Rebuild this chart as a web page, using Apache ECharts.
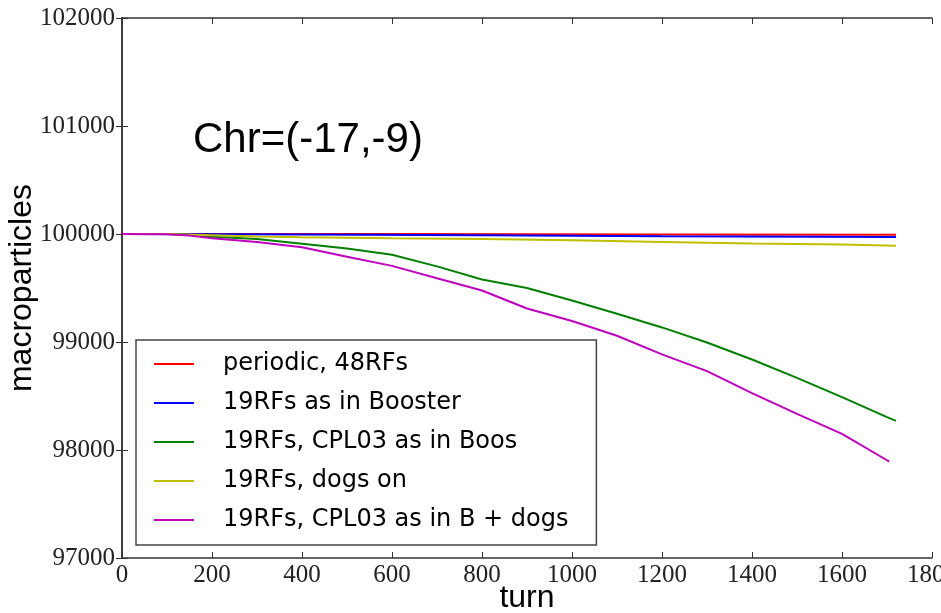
<!DOCTYPE html>
<html>
<head>
<meta charset="utf-8">
<script src="https://cdn.jsdelivr.net/npm/echarts@6/dist/echarts.min.js"></script>
<style>
  html, body { margin: 0; padding: 0; background: #fff; }
  #chart { width: 941px; height: 613px; }
</style>
</head>
<body>
<div id="chart"></div>
<script>
// data
var seriesNames = ['periodic, 48RFs', '19RFs as in Booster', '19RFs, CPL03 as in Boos', '19RFs, dogs on', '19RFs, CPL03 as in B + dogs'];
var seriesColors = ['#ff0000', '#0000ff', '#008000', '#bfbf00', '#bf00bf'];

var periodicTurns = [0, 600, 1200, 1720];
var periodicVals = [100000, 100000, 99996, 99992];

var boosterTurns = [0, 400, 800, 1200, 1720];
var boosterVals = [100000, 99995, 99988, 99980, 99972];

var cplTurns = [0, 100, 150, 200, 300, 400, 500, 600, 700, 800, 900, 1000, 1100, 1200, 1300, 1400, 1500, 1600, 1700, 1720];
var cplVals = [100000, 99999, 99992, 99975, 99953, 99910, 99865, 99808, 99700, 99578, 99500, 99385, 99262, 99135, 98995, 98838, 98668, 98490, 98305, 98270];

var dogsTurns = [0, 100, 200, 300, 400, 600, 800, 1000, 1200, 1400, 1600, 1720];
var dogsVals = [100000, 99999, 99988, 99978, 99970, 99960, 99953, 99942, 99926, 99912, 99902, 99892];

var cplDogsTurns = [0, 100, 150, 200, 300, 400, 500, 600, 700, 800, 900, 1000, 1100, 1200, 1300, 1400, 1500, 1600, 1700, 1705];
var cplDogsVals = [100000, 99998, 99985, 99960, 99925, 99878, 99790, 99705, 99590, 99477, 99310, 99195, 99058, 98885, 98730, 98527, 98335, 98150, 97905, 97892];

var xMin = 0, xMax = 1800, xStep = 200;
var yMin = 97000, yMax = 102000, yStep = 1000;

function pairs(xs, ys) {
    var out = [];
    for (var i = 0; i < xs.length; i++) {
        out.push([xs[i], ys[i]]);
    }
    return out;
}

var allTurns = [periodicTurns, boosterTurns, cplTurns, dogsTurns, cplDogsTurns];
var allVals = [periodicVals, boosterVals, cplVals, dogsVals, cplDogsVals];

var series = [];
for (var i = 0; i < seriesNames.length; i++) {
    series.push({
        name: seriesNames[i],
        type: 'line',
        symbol: 'none',
        lineStyle: { color: seriesColors[i], width: 2 },
        itemStyle: { color: seriesColors[i] },
        data: pairs(allTurns[i], allVals[i])
    });
}

var tickStyle = { show: true, inside: true, length: 6, lineStyle: { color: '#333', width: 1 } };
var frameLine = { show: true, lineStyle: { color: '#333', width: 1.5 } };
var plainNum = function (v) { return String(v); };
var tickFont = { fontFamily: 'Liberation Serif', fontSize: 25, color: '#222', formatter: plainNum };

var myChart = echarts.init(document.getElementById('chart'));

var option = {
    backgroundColor: '#fff',
    animation: false,
    title: {
        text: 'Chr=(-17,-9)',
        left: 188,
        top: 114,
        textStyle: { fontFamily: 'Liberation Sans', fontSize: 42, fontWeight: 'normal', color: '#000' }
    },
    legend: {
        orient: 'vertical',
        left: 136,
        top: 340,
        data: seriesNames,
        icon: 'rect',
        itemWidth: 40,
        itemHeight: 2,
        itemGap: 15,
        padding: [12, 28, 13, 18],
        borderColor: '#444',
        borderWidth: 1.5,
        backgroundColor: '#fff',
        textStyle: { fontFamily: 'DejaVu Sans', fontSize: 24, color: '#000', padding: [0, 0, 0, 24] }
    },
    grid: {
        left: 122,
        right: 9,
        top: 18,
        bottom: 55,
        containLabel: false,
        outerBoundsMode: 'none',
        show: false
    },
    xAxis: [
        {
            type: 'value',
            min: xMin,
            max: xMax,
            interval: xStep,
            name: 'turn',
            nameLocation: 'middle',
            nameGap: 24,
            nameMoveOverlap: false,
            nameTextStyle: { fontFamily: 'Liberation Sans', fontSize: 32, color: '#000' },
            axisLine: frameLine,
            axisTick: tickStyle,
            axisLabel: Object.assign({ margin: 5 }, tickFont),
            splitLine: { show: false }
        },
        {
            type: 'value',
            position: 'top',
            min: xMin,
            max: xMax,
            interval: xStep,
            axisLine: frameLine,
            axisTick: tickStyle,
            axisLabel: { show: false },
            splitLine: { show: false }
        }
    ],
    yAxis: [
        {
            type: 'value',
            min: yMin,
            max: yMax,
            interval: yStep,
            name: 'macroparticles',
            nameLocation: 'middle',
            nameGap: 84,
            nameMoveOverlap: false,
            nameTextStyle: { fontFamily: 'Liberation Sans', fontSize: 32, color: '#000' },
            axisLine: frameLine,
            axisTick: tickStyle,
            axisLabel: Object.assign({ margin: 7 }, tickFont),
            splitLine: { show: false }
        },
        {
            type: 'value',
            position: 'right',
            min: yMin,
            max: yMax,
            interval: yStep,
            axisLine: frameLine,
            axisTick: tickStyle,
            axisLabel: { show: false },
            splitLine: { show: false }
        }
    ],
    series: series
};

myChart.setOption(option);
</script>
</body>
</html>
